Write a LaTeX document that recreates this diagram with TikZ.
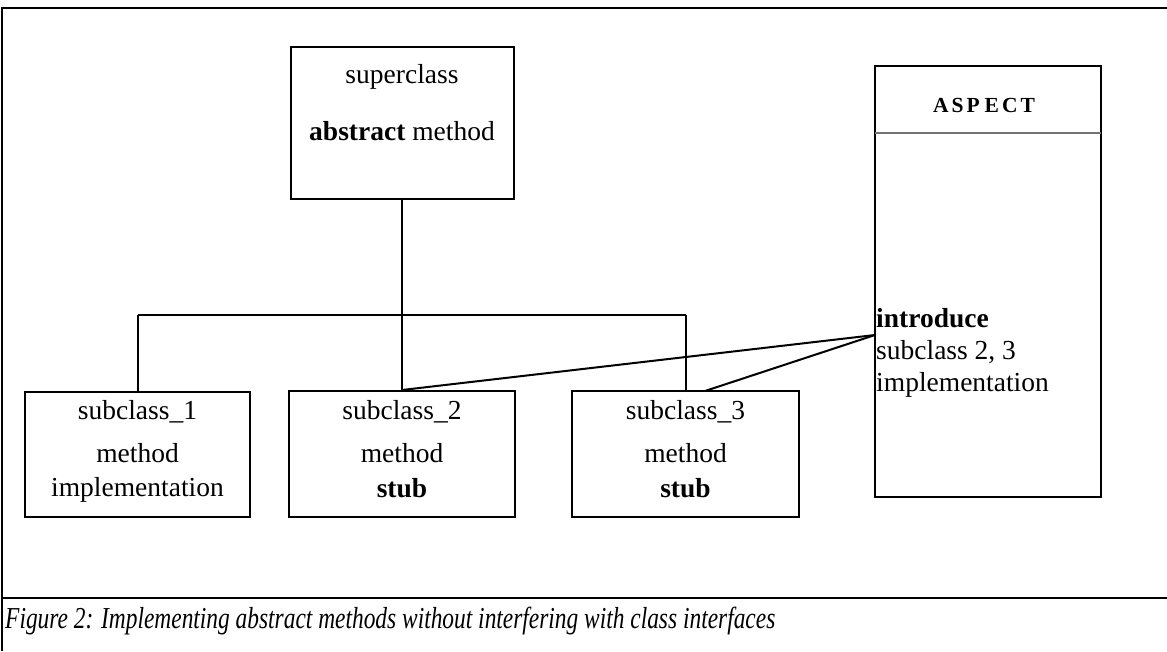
\documentclass[tikz,border=0pt]{standalone}
\usepackage{fontspec}
\setmainfont{Liberation Serif}
\begin{document}
\begin{tikzpicture}[x=1pt,y=-1pt,
  box/.style={draw=black,line width=2pt,inner sep=0pt,fill=none},
  txt/.style={inner sep=0pt,anchor=base,font=\fontsize{27.5}{32}\selectfont},
  ltxt/.style={txt,anchor=base west},
  conn/.style={line width=2pt},
  frame/.style={line width=2pt}]
\useasboundingbox (0,0) rectangle (1167,651);
% frame
\draw[frame] (2,651) -- (2,8) -- (1167,8);
\draw[frame] (2,598) -- (1167,598);
% boxes
\node[box,minimum width=223pt,minimum height=152pt] (sup) at (402,123) {};
\node[box,minimum width=225pt,minimum height=125pt] (sub1) at (137.5,454.5) {};
\node[box,minimum width=226pt,minimum height=126pt] (sub2) at (402,454) {};
\node[box,minimum width=227pt,minimum height=126pt] (sub3) at (685.5,454) {};
\node[box,minimum width=226pt,minimum height=431pt] (asp) at (988,281.5) {};
\draw[line width=2pt,draw=black!55] (875,133) -- (1101,133);
% texts
\node[txt] (tsup1) at (402,83) {superclass};
\node[txt] (tsup2) at (402,140) {\textbf{abstract} method};
\node[txt] (ts11) at (137.5,419) {subclass\_1};
\node[txt] (ts12) at (137.5,462) {method};
\node[txt] (ts13) at (137.5,496) {implementation};
\node[txt] (ts21) at (402,419) {subclass\_2};
\node[txt] (ts22) at (402,462) {method};
\node[txt] (ts23) at (402,497) {\textbf{stub}};
\node[txt] (ts31) at (685.5,419) {subclass\_3};
\node[txt] (ts32) at (685.5,462) {method};
\node[txt] (ts33) at (685.5,497) {\textbf{stub}};
\node[inner sep=0pt,anchor=base,font=\fontsize{21.5}{24}\selectfont\bfseries] (tasp) at (984,112)
  {A\hspace{3pt}S\hspace{3pt}P\hspace{5pt}E\hspace{3pt}C\hspace{3pt}T};
\node[ltxt] (ti1) at (876,327) {\textbf{introduce}};
\node[ltxt] (ti2) at (876,359) {subclass 2, 3};
\node[ltxt] (ti3) at (876,391) {implementation};
\node[inner sep=0pt,anchor=base west] (cap) at (5,628)
  {\scalebox{1}[1.3]{\resizebox{770pt}{!}{\itshape Figure 2: Implementing abstract methods without interfering with class interfaces}}};
% connectors
\coordinate (busl) at (137.5,315);
\coordinate (busr) at (685.5,315);
\coordinate (hub) at (875,335);
\draw[conn] (sup.south) -- (sub2.north);
\draw[conn] (busl) -- (busr);
\draw[conn] (busl) -- (sub1.north);
\draw[conn] (busr) -- (sub3.north);
\draw[conn] (hub) -- (sub2.north);
\draw[conn] (hub) -- (705,391);
\end{tikzpicture}
\end{document}
